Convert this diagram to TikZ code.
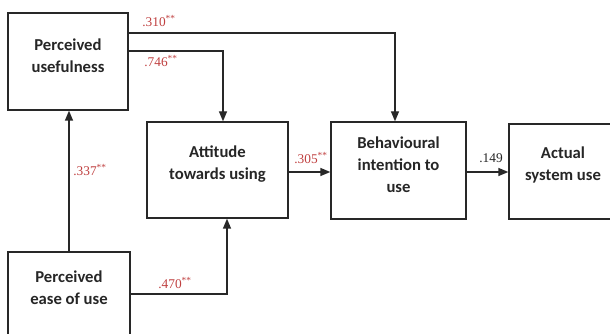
\documentclass[tikz,border=0pt]{standalone}
\usepackage{fontspec}
\setmainfont{Liberation Serif}
\newfontfamily\boxfont{Carlito}
\usetikzlibrary{arrows.meta}
\definecolor{lblred}{RGB}{192,64,64}
\definecolor{linegray}{RGB}{40,40,40}
\tikzset{
  box/.style={draw=linegray, line width=1pt, inner sep=0pt, fill=white},
  boxtext/.style={font=\boxfont\bfseries\fontsize{12.5}{16.5}\selectfont, align=center, inner sep=0pt, text=black!85},
  conn/.style={draw=linegray, line width=1pt, -{Triangle[length=7.5pt,width=6pt]}},
  coef/.style={font=\fontsize{10}{12}\selectfont, text=lblred, inner sep=0pt},
  coefblack/.style={font=\fontsize{10}{12}\selectfont, text=black!85, inner sep=0pt}
}
\newcommand{\sig}{\textsuperscript{**}}
\begin{document}
\begin{tikzpicture}[x=0.75pt,y=-0.75pt]
\clip (0,0) rectangle (610,334);
\fill[white] (0,0) rectangle (610,334);
% boxes
\node[box, minimum width=90pt, minimum height=72.75pt] (pu) at (68,61.5) {};
\node[box, minimum width=105.75pt, minimum height=72pt] (atu) at (217.5,170) {};
\node[box, minimum width=101.25pt, minimum height=72.75pt] (bi) at (398.5,170.5) {};
\node[box, minimum width=81pt, minimum height=71.25pt] (asu) at (563,171.5) {};
\node[box, minimum width=91.5pt, minimum height=72.75pt] (peou) at (69,300.5) {};
% box texts
\node[boxtext] (tpu) at (68,56) {Perceived\\usefulness};
\node[boxtext] (tatu) at (217.5,164) {Attitude\\towards using};
\node[boxtext] (tbi) at (398.5,164.5) {Behavioural\\intention to\\use};
\node[boxtext] (tasu) at (563,165) {Actual\\system use};
\node[boxtext] (tpeou) at (69,288) {Perceived\\ease of use};
% bend points
\coordinate (k1) at (395,33);
\coordinate (k2) at (223,51);
\coordinate (k4) at (227,294);
\coordinate (k5) at (0,172);
% connectors
\draw[conn] (pu.east |- k1) -| (bi.north -| k1);
\draw[conn] (pu.east |- k2) -| (atu.north -| k2);
\draw[conn] (peou.north) -- (pu.south -| peou.north);
\draw[conn] (peou.east |- k4) -| (atu.south -| k4);
\draw[conn] (atu.east |- k5) -- (bi.west |- k5);
\draw[conn] (bi.east |- k5) -- (asu.west |- k5);
% coefficients
\node[coef] (c1) at (159,21) {.310\sig};
\node[coef] (c2) at (161,61) {.746\sig};
\node[coef] (c3) at (90,170) {.337\sig};
\node[coef] (c4) at (175,283) {.470\sig};
\node[coef] (c5) at (311,158) {.305\sig};
\node[coefblack] (c6) at (491,158) {.149};
\end{tikzpicture}
\end{document}
